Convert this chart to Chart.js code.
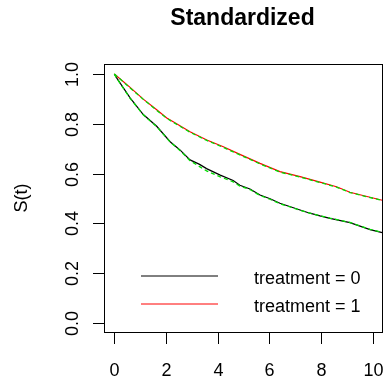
<!DOCTYPE html>
<html><head><meta charset="utf-8">
<script src="https://cdn.jsdelivr.net/npm/chart.js@4/dist/chart.umd.min.js"></script>
<style>html,body{margin:0;padding:0;background:#fff;}canvas{display:block}</style>
</head><body>
<canvas id="c" width="384" height="377"></canvas>
<script>
const titleText = "Standardized";
const yAxisLabel = "S(t)";
const seriesNames = ["treatment = 0", "treatment = 1"];
const xTicks = [0, 2, 4, 6, 8, 10];
const yTicks = [0.0, 0.2, 0.4, 0.6, 0.8, 1.0];

// treatment = 0 (Kaplan-Meier style curve, black)
const time0 = [0, 0.09, 0.61, 1.12, 1.64, 2.16, 2.54, 2.93, 3.3, 3.57, 4.1, 4.6, 4.86, 5.25, 5.64, 6.03, 6.41, 7.19, 7.57, 7.96, 8.35, 9.12, 9.9, 10.37];
const surv0 = [1.0, 0.984, 0.904, 0.837, 0.790, 0.728, 0.695, 0.655, 0.637, 0.620, 0.594, 0.572, 0.553, 0.538, 0.514, 0.499, 0.481, 0.454, 0.441, 0.430, 0.420, 0.403, 0.375, 0.363];
// treatment = 1 (red)
const time1 = [0, 0.61, 1.12, 1.64, 2.03, 2.28, 2.93, 3.58, 4.22, 4.86, 5.64, 6.41, 7.19, 7.96, 8.6, 9.12, 9.7, 10.37];
const surv1 = [1.0, 0.946, 0.899, 0.856, 0.823, 0.808, 0.768, 0.735, 0.708, 0.677, 0.641, 0.608, 0.588, 0.566, 0.547, 0.525, 0.510, 0.493];
// standardized estimates (green dashed)
const timeStd0 = [0, 0.09, 0.61, 1.12, 1.64, 2.16, 2.54, 2.93, 3.3, 3.57, 4.1, 4.6, 4.86, 5.25, 5.64, 6.03, 6.41, 7.19, 7.57, 7.96, 8.35, 9.12, 9.9, 10.37];
const survStd0 = [1.0, 0.983, 0.902, 0.836, 0.788, 0.727, 0.693, 0.652, 0.628, 0.611, 0.587, 0.567, 0.550, 0.536, 0.512, 0.497, 0.479, 0.453, 0.441, 0.431, 0.421, 0.404, 0.376, 0.364];
const timeStd1 = [0, 0.61, 1.12, 1.64, 2.03, 2.28, 2.93, 3.58, 4.22, 4.86, 5.64, 6.41, 7.19, 7.96, 8.6, 9.12, 9.7, 10.37];
const survStd1 = [1.0, 0.944, 0.898, 0.854, 0.822, 0.806, 0.766, 0.733, 0.705, 0.675, 0.639, 0.606, 0.586, 0.564, 0.546, 0.524, 0.509, 0.492];

const toXY = (t, s) => t.map((v, i) => ({x: v, y: s[i]}));
const FONT = '"Liberation Sans", Arial, sans-serif';

const rAxes = {
  id: 'rAxes',
  afterDraw(chart) {
    const ctx = chart.ctx, a = chart.chartArea;
    const xs = chart.scales.x, ys = chart.scales.y;
    ctx.save();
    ctx.strokeStyle = '#000'; ctx.lineWidth = 1; ctx.fillStyle = '#000';
    ctx.strokeRect(a.left + 0.5, a.top + 0.5, a.right - a.left - 1, a.bottom - a.top - 1);
    ctx.font = '18px ' + FONT;
    ctx.textAlign = 'center'; ctx.textBaseline = 'alphabetic';
    xTicks.forEach(v => {
      const px = Math.round(xs.getPixelForValue(v)) + 0.5;
      ctx.beginPath(); ctx.moveTo(px, a.bottom); ctx.lineTo(px, a.bottom + 11); ctx.stroke();
      ctx.fillText(String(v), px, 376);
    });
    yTicks.forEach(v => {
      const py = Math.round(ys.getPixelForValue(v)) + 0.5;
      ctx.beginPath(); ctx.moveTo(a.left - 11, py); ctx.lineTo(a.left, py); ctx.stroke();
      ctx.save(); ctx.translate(78, py); ctx.rotate(-Math.PI / 2);
      ctx.fillText(v.toFixed(1), 0, 0); ctx.restore();
    });
    ctx.save(); ctx.translate(27, 198); ctx.rotate(-Math.PI / 2);
    ctx.fillText(yAxisLabel, 0, 0); ctx.restore();
    ctx.font = 'bold 23px ' + FONT;
    ctx.fillText(titleText, (a.left + a.right) / 2 - 1, 25);
    // legend
    const cols = ['#000000', '#ff0000'];
    const ly = [276, 304], tb = [283.5, 312];
    ctx.font = '18px ' + FONT; ctx.textAlign = 'left';
    seriesNames.forEach((n, i) => {
      ctx.strokeStyle = cols[i];
      ctx.beginPath(); ctx.moveTo(141, ly[i]); ctx.lineTo(218, ly[i]); ctx.stroke();
      ctx.fillText(n, 254, tb[i]);
    });
    ctx.restore();
  }
};

new Chart(document.getElementById('c'), {
  type: 'line',
  data: {
    datasets: [
      {label: 'std0', data: toXY(timeStd0, survStd0), borderColor: '#00dd00', borderWidth: 1.3, borderDash: [4, 3], pointRadius: 0, tension: 0, order: 0},
      {label: 'std1', data: toXY(timeStd1, survStd1), borderColor: '#00dd00', borderWidth: 1.3, borderDash: [4, 3], pointRadius: 0, tension: 0, order: 0},
      {label: seriesNames[0], data: toXY(time0, surv0), borderColor: '#000000', borderWidth: 1.2, pointRadius: 0, tension: 0, order: 1},
      {label: seriesNames[1], data: toXY(time1, surv1), borderColor: '#ff0000', borderWidth: 1.2, pointRadius: 0, tension: 0, order: 1}
    ]
  },
  options: {
    responsive: false, animation: false, devicePixelRatio: 1,
    layout: {padding: {left: 104, right: 1, top: 64, bottom: 44}},
    scales: {
      x: {type: 'linear', min: -0.4, max: 10.4, display: false},
      y: {type: 'linear', min: -0.04, max: 1.04, display: false}
    },
    plugins: {legend: {display: false}, tooltip: {enabled: false}}
  },
  plugins: [rAxes]
});
</script>
</body></html>
